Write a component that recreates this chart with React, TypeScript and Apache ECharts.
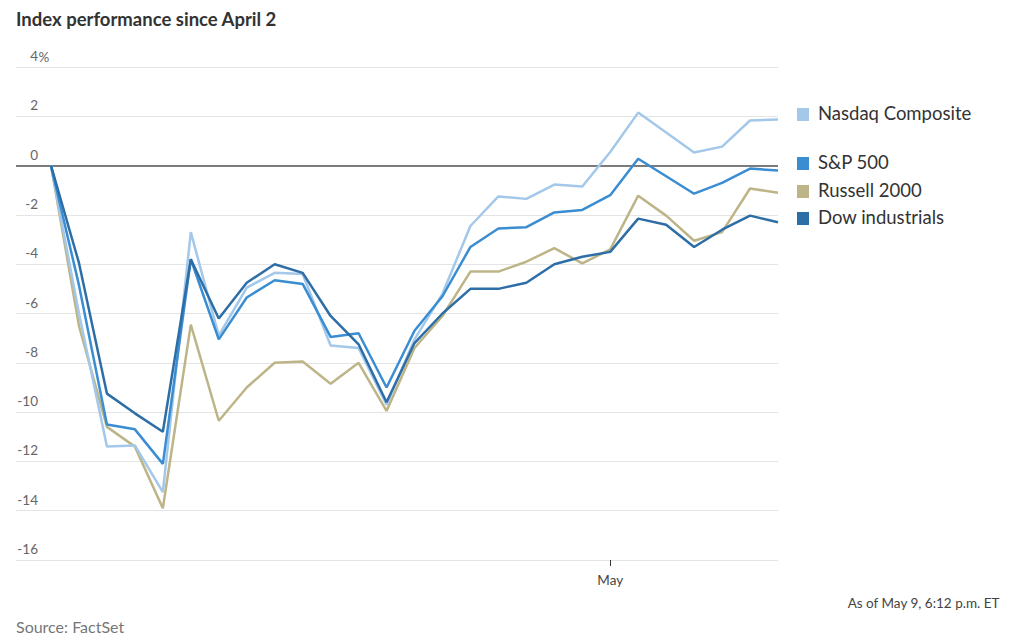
import React, { useEffect, useRef } from "react";
import * as echarts from "echarts";

const dates = [
  "Apr 2", "Apr 3", "Apr 4", "Apr 7", "Apr 8", "Apr 9", "Apr 10", "Apr 11",
  "Apr 14", "Apr 15", "Apr 16", "Apr 17", "Apr 21", "Apr 22", "Apr 23", "Apr 24",
  "Apr 25", "Apr 28", "Apr 29", "Apr 30", "May 1", "May 2", "May 5", "May 6",
  "May 7", "May 8", "May 9",
];

const nasdaq = [0, -6.0, -11.4, -11.35, -13.25, -2.7, -6.9, -4.95, -4.35, -4.4, -7.3, -7.4, -9.7, -7.05, -5.2, -2.45, -1.25, -1.35, -0.77, -0.85, 0.55, 2.15, 1.34, 0.53, 0.77, 1.83, 1.87];
const sp500 = [0, -4.85, -10.5, -10.7, -12.1, -3.8, -7.05, -5.35, -4.65, -4.8, -6.95, -6.8, -9.0, -6.7, -5.3, -3.3, -2.55, -2.5, -1.9, -1.8, -1.2, 0.28, -0.43, -1.14, -0.7, -0.12, -0.2];
const russell = [0, -6.5, -10.6, -11.4, -13.9, -6.45, -10.35, -9.0, -8.0, -7.95, -8.85, -8.0, -9.95, -7.4, -6.1, -4.3, -4.3, -3.9, -3.35, -3.97, -3.4, -1.22, -2.03, -3.05, -2.7, -0.93, -1.1];
const dow = [0, -3.95, -9.25, -10.05, -10.8, -3.8, -6.2, -4.75, -4.0, -4.35, -6.1, -7.25, -9.6, -7.2, -6.0, -5.0, -5.0, -4.75, -4.0, -3.7, -3.5, -2.15, -2.4, -3.3, -2.6, -2.03, -2.3];

const seriesNames = ["Nasdaq Composite", "S&P 500", "Russell 2000", "Dow industrials"];
const seriesColors = ["#a3c8e9", "#3b8dd2", "#bdb587", "#2e6ea6"];
const yTicks = [4, 2, 0, -2, -4, -6, -8, -10, -12, -14, -16];
const monthTickIndex = dates.indexOf("May 1");
const monthTickLabel = "May";
const titleText = "Index performance since April 2";
const sourceText = "Source: FactSet";
const asOfText = "As of May 9, 6:12 p.m. ET";

const FONT = "Lato, 'Noto Sans', sans-serif";

export default function App() {
  const ref = useRef<HTMLDivElement>(null);

  useEffect(() => {
    if (!ref.current) return;
    const chart = echarts.init(ref.current, undefined, { renderer: "svg" });
    const values = [nasdaq, sp500, russell, dow];
    const toPairs = (arr: number[]) => arr.map((v, i) => [i, v]);
    const drawOrder = [2, 0, 1, 3];
    const legendY = [114, 163, 191, 218];

    const series: any[] = drawOrder.map((k, idx) => ({
      name: seriesNames[k],
      type: "line",
      data: toPairs(values[k]),
      showSymbol: false,
      symbol: "none",
      lineStyle: { color: seriesColors[k], width: 2.5 },
      itemStyle: { color: seriesColors[k] },
      z: 3 + idx,
      markLine:
        idx === 0
          ? {
              silent: true,
              symbol: "none",
              label: { show: false },
              lineStyle: { color: "#555", width: 1.5, type: "solid" },
              data: [{ yAxis: 0 }],
              z: 2,
            }
          : undefined,
    }));

    const legendGraphics: any[] = [];
    seriesNames.forEach((name, k) => {
      legendGraphics.push({
        type: "rect",
        left: 797,
        top: legendY[k] - 6,
        shape: { width: 12, height: 13 },
        style: { fill: seriesColors[k] },
      });
      legendGraphics.push({
        type: "text",
        left: 818,
        top: legendY[k] - 11,
        style: {
          text: name,
          fill: "#333",
          font: `18.5px ${FONT}`,
        },
      });
    });

    chart.setOption({
      animation: false,
      backgroundColor: "#fff",
      grid: { left: 16, right: 1024 - 778, top: 67, bottom: 84, containLabel: false },
      xAxis: {
        type: "value",
        min: -1.252,
        max: dates.length - 1,
        axisLine: { show: false, onZero: false },
        splitLine: { show: false },
        axisTick: {
          show: true,
          customValues: [monthTickIndex],
          length: 6,
          lineStyle: { color: "#333", width: 1 },
        },
        axisLabel: {
          show: true,
          customValues: [monthTickIndex],
          formatter: () => monthTickLabel,
          color: "#444",
          fontSize: 13.5,
          fontFamily: FONT,
          margin: 13,
        },
      },
      yAxis: {
        type: "value",
        min: yTicks[yTicks.length - 1],
        max: yTicks[0],
        interval: 2,
        axisLine: { show: false },
        axisTick: { show: false },
        splitLine: { lineStyle: { color: "#e4e4e4", width: 1 } },
        axisLabel: {
          inside: true,
          margin: 0,
          verticalAlign: "bottom",
          padding: [0, 0, 4, 0],
          color: "#666",
          fontSize: 13.5,
          fontFamily: FONT,
          formatter: (v: number) => `{n|${v}}`,
          rich: {
            n: { width: 22, align: "right", color: "#666", fontSize: 13.5, fontFamily: FONT },
          },
        },
      },
      graphic: [
        {
          type: "text",
          left: 16,
          top: 9,
          style: { text: titleText, fill: "#333", font: `bold 18.5px ${FONT}` },
        },
        {
          type: "text",
          left: 38.5,
          top: 50,
          style: { text: "%", fill: "#666", font: `13.5px ${FONT}` },
        },
        {
          type: "text",
          left: 16,
          top: 618,
          style: { text: sourceText, fill: "#777", font: `16px ${FONT}` },
        },
        {
          type: "text",
          right: 24,
          top: 596,
          style: { text: asOfText, fill: "#444", font: `13.5px ${FONT}` },
        },
        ...legendGraphics,
      ],
      series,
    });

    return () => chart.dispose();
  }, []);

  return (
    <div
      ref={ref}
      style={{ position: "fixed", left: 0, top: 0, width: 1024, height: 644, background: "#fff" }}
    />
  );
}
